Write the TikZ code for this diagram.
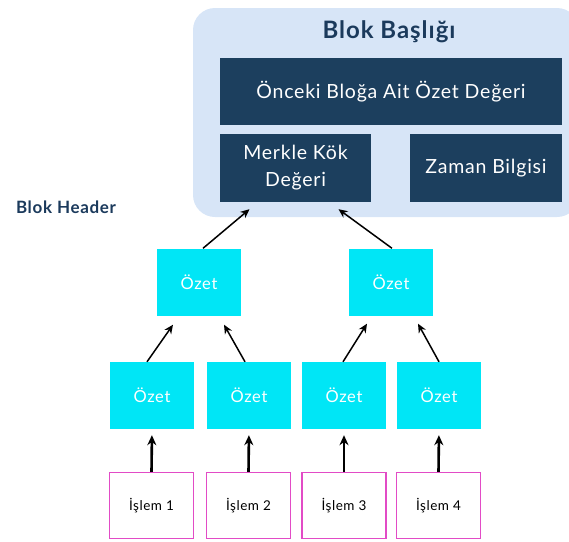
\documentclass[tikz,border=0pt]{standalone}
\usepackage{fontspec}
\setmainfont{Lato}[LetterSpace=4]
\usepackage{xcolor}
\usetikzlibrary{arrows.meta, positioning, calc}

\definecolor{navy}{HTML}{1C3F5E}
\definecolor{titleblue}{HTML}{1B3A5C}
\definecolor{paleblue}{HTML}{D7E5F7}
\definecolor{ozetcyan}{HTML}{00E6F6}
\definecolor{islempink}{HTML}{E24BC6}

\begin{document}
\begin{tikzpicture}[
  x=1pt, y=-1pt,
  blockbg/.style={
    rectangle, rounded corners=22pt,
    draw=none, fill=paleblue,
    minimum width=386pt, minimum height=209pt, inner sep=0pt},
  field/.style={
    rectangle, draw=none, fill=navy, text=white,
    align=center, inner sep=0pt,
    font=\fontsize{19.5}{27}\selectfont},
  ozet/.style={
    rectangle, draw=none, fill=ozetcyan, text=white,
    minimum width=84pt, minimum height=67pt, inner sep=0pt,
    font=\fontsize{16.5}{18}\selectfont},
  islem/.style={
    rectangle, draw=islempink, fill=white, line width=1.3pt,
    minimum width=84pt, minimum height=66pt, inner sep=0pt,
    font=\fontsize{13.5}{15}\selectfont},
  arrowthin/.style={-{Stealth[length=9pt,width=8pt]}, line width=1.5pt},
  arrowthick/.style={-{Stealth[length=10pt,width=9pt]}, line width=2.6pt,
    shorten >=6pt},
  lbl/.style={font=\fontsize{17}{19}\selectfont\bfseries, text=titleblue},
]
\clip (0,0) rectangle (569,541);

%% ---- Block header ----
\node[blockbg] (blok) at (386,112.5) {};
\node[font=\fontsize{24}{28}\selectfont\bfseries, text=titleblue]
  (baslik) at (389,32) {Blok Başlığı};
\node[field, minimum width=342pt, minimum height=67pt]
  (onceki) at (391,91.5) {Önceki Bloğa Ait Özet Değeri};
\node[field, minimum width=151pt, minimum height=68pt]
  (merkle) at (295.5,168) {Merkle Kök\\Değeri};
\node[field, minimum width=152pt, minimum height=68pt]
  (zaman) at (486,168) {Zaman Bilgisi};

\node[lbl] (header) at (66,207) {Blok Header};

%% ---- Merkle tree ----
\node[ozet] (a1) at (199,282) {Özet};
\node[ozet] (a2) at (391,282) {Özet};

\node[ozet] (b1) at (152,395.5) {Özet};
\node[ozet] (b2) at (249,395.5) {Özet};
\node[ozet] (b3) at (344,395.5) {Özet};
\node[ozet] (b4) at (439,395.5) {Özet};

\node[islem] (c1) at (151.5,505.5) {İşlem 1};
\node[islem] (c2) at (248.5,505.5) {İşlem 2};
\node[islem] (c3) at (344,505.5) {İşlem 3};
\node[islem] (c4) at (438.5,505.5) {İşlem 4};

%% ---- Arrows ----
\draw[arrowthick] (c1.north) -- (b1.south);
\draw[arrowthick] (c2.north) -- (b2.south);
\draw[arrowthick] (c3.north) -- (b3.south);
\draw[arrowthick] (c4.north) -- (b4.south);

\draw[arrowthin] ([xshift=-5pt]b1.north) -- ([xshift=-26pt,yshift=-9pt]a1.south);
\draw[arrowthin] ([xshift=-4pt]b2.north) -- ([xshift=25pt,yshift=-9pt]a1.south);
\draw[arrowthin] ([xshift=-1pt]b3.north) -- ([xshift=-24pt,yshift=-8pt]a2.south);
\draw[arrowthin] (b4.north) -- ([xshift=27pt,yshift=-8pt]a2.south);

\draw[arrowthin] ([xshift=4pt]a1.north) -- ([xshift=-46pt,yshift=-7pt]merkle.south);
\draw[arrowthin] ([xshift=1pt]a2.north) -- ([xshift=43pt,yshift=-7pt]merkle.south);

\end{tikzpicture}
\end{document}
